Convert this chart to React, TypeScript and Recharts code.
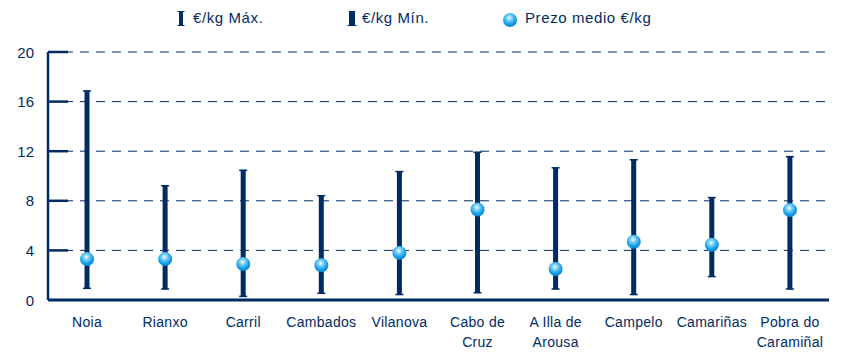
import { Bar, CartesianGrid, ComposedChart, Legend, Line, XAxis, YAxis } from "recharts";

const categories = [
  "Noia",
  "Rianxo",
  "Carril",
  "Cambados",
  "Vilanova",
  "Cabo de\nCruz",
  "A Illa de\nArousa",
  "Campelo",
  "Camariñas",
  "Pobra do\nCaramiñal",
];
const maxPrices = [16.9, 9.25, 10.5, 8.45, 10.4, 11.95, 10.7, 11.35, 8.3, 11.6];
const minPrices = [0.9, 0.85, 0.25, 0.5, 0.4, 0.55, 0.85, 0.4, 1.85, 0.85];
const meanPrices = [3.3, 3.3, 2.9, 2.8, 3.8, 7.3, 2.5, 4.7, 4.45, 7.25];
const yTicks = [0, 4, 8, 12, 16, 20];

const NAVY = "#002b63";
const FONT = "'Liberation Sans', Arial, sans-serif";

const data = categories.map((name, i) => ({
  name,
  range: [minPrices[i], maxPrices[i]],
  mean: meanPrices[i],
}));

function RangeShape(props: any) {
  const { x, y, width, height } = props;
  const cx = x + width / 2;
  return (
    <g>
      <rect x={cx - 2.5} y={y} width={5} height={height} fill={NAVY} />
      <line x1={cx - 4} x2={cx + 4} y1={y + 0.5} y2={y + 0.5} stroke={NAVY} strokeWidth={1.5} />
      <line x1={cx - 4} x2={cx + 4} y1={y + height - 0.5} y2={y + height - 0.5} stroke={NAVY} strokeWidth={1.5} />
    </g>
  );
}

function MeanDot(props: any) {
  const { cx, cy } = props;
  if (cx == null || cy == null) return null;
  return <circle cx={cx} cy={cy} r={7} fill="url(#sphere)" />;
}

function YTick(props: any) {
  const { x, y, payload } = props;
  const axisX = x + 13;
  return (
    <g>
      <text x={x - 1} y={y} dy={5.5} textAnchor="end" fill={NAVY} fontSize={15} fontFamily={FONT}>
        {payload.value}
      </text>
      {payload.value !== 0 && (
        <line x1={axisX} x2={axisX + 20} y1={y} y2={y} stroke={NAVY} strokeWidth={2.5} />
      )}
    </g>
  );
}

function XTick(props: any) {
  const { x, y, payload } = props;
  const lines = String(payload.value).split("\n");
  return (
    <text
      x={x}
      y={y}
      textAnchor="middle"
      fill={NAVY}
      fontSize={14}
      letterSpacing={0.3}
      fontFamily={FONT}
    >
      {lines.map((l, i) => (
        <tspan key={i} x={x} dy={i === 0 ? 19 : 20}>
          {l}
        </tspan>
      ))}
    </text>
  );
}

function LegendBox() {
  const text = {
    position: "absolute" as const,
    top: 9,
    fontSize: 15,
    letterSpacing: 0.6,
    color: NAVY,
    fontFamily: FONT,
    whiteSpace: "nowrap" as const,
  };
  return (
    <div style={{ position: "relative", width: 857, height: 30 }}>
      <svg width={857} height={30} style={{ position: "absolute", left: 0, top: 0 }}>
        <rect x={179} y={11} width={4} height={15} fill={NAVY} />
        <line x1={177.5} x2={184.5} y1={11.5} y2={11.5} stroke={NAVY} />
        <line x1={177.5} x2={184.5} y1={25.5} y2={25.5} stroke={NAVY} />
        <rect x={349} y={11} width={6} height={15} fill={NAVY} />
        <line x1={347.5} x2={356.5} y1={25.5} y2={25.5} stroke={NAVY} />
        <circle cx={510} cy={20} r={7} fill="url(#sphere)" />
      </svg>
      <span style={{ ...text, left: 193 }}>€/kg Máx.</span>
      <span style={{ ...text, left: 362 }}>€/kg Mín.</span>
      <span style={{ ...text, left: 525 }}>Prezo medio €/kg</span>
    </div>
  );
}

export default function App() {
  return (
    <div style={{ margin: -8, width: 857, height: 355, background: "#fff" }}>
      <svg width={0} height={0} style={{ position: "absolute" }}>
        <defs>
          <radialGradient id="sphere" cx="45%" cy="35%" r="65%">
            <stop offset="0%" stopColor="#f2fbff" />
            <stop offset="30%" stopColor="#7fd0f7" />
            <stop offset="70%" stopColor="#16a0e8" />
            <stop offset="100%" stopColor="#0584d2" />
          </radialGradient>
        </defs>
      </svg>
      <ComposedChart
        width={857}
        height={355}
        data={data}
        margin={{ top: 52, right: 28, left: 0, bottom: 0 }}
      >
        <CartesianGrid
          horizontal
          vertical={false}
          stroke={NAVY}
          strokeDasharray="9 7"
          strokeWidth={1}
        />
        <XAxis
          dataKey="name"
          interval={0}
          height={55}
          axisLine={{ stroke: NAVY, strokeWidth: 3 }}
          tickLine={false}
          tick={<XTick />}
        />
        <YAxis
          width={48}
          domain={[0, 20]}
          ticks={yTicks}
          axisLine={{ stroke: NAVY, strokeWidth: 2.5 }}
          tickLine={false}
          tickSize={0}
          tickMargin={13}
          tick={<YTick />}
        />
        <Legend
          layout="horizontal"
          verticalAlign="middle"
          wrapperStyle={{ position: "absolute", top: 0, left: 0, width: 857, height: 30 }}
          content={() => <LegendBox />}
        />
        <Bar dataKey="range" barSize={10} shape={<RangeShape />} isAnimationActive={false} legendType="none" />
        <Line
          dataKey="mean"
          stroke="none"
          dot={<MeanDot />}
          activeDot={false}
          isAnimationActive={false}
        />
      </ComposedChart>
    </div>
  );
}
